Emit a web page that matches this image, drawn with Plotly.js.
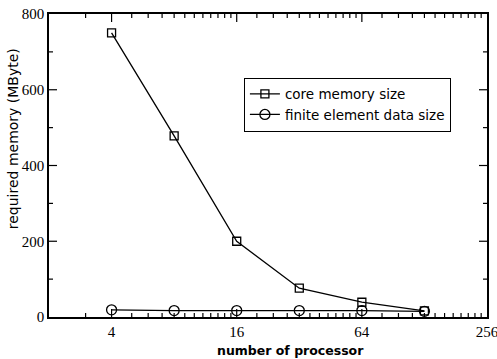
<!DOCTYPE html>
<html><head><meta charset="utf-8">
<script src="https://cdn.plot.ly/plotly-3.0.1.min.js"></script>
<style>body{margin:0;padding:0;background:#fff}#c{width:497px;height:359px}</style>
</head><body><div id="c"></div>
<script>
var processors = [4, 8, 16, 32, 64, 128];
var coreMemory = [750, 478, 200, 76, 39, 16];
var feData = [19, 17, 17, 17, 17, 15];
var xTicks = [4, 16, 64, 256];
var xTickText = ['4', '16', '64', '256'];
var yTicks = [0, 200, 400, 600, 800];
var yMinorTicks = [100, 300, 500, 700];
var xTitle = 'number of processor';
var yTitle = 'required memory (MByte)';

var W = 497, H = 359, M = {l: 49, r: 10, t: 14, b: 42};
var plotW = W - M.l - M.r, plotH = H - M.t - M.b;
var xMin = 2, xMax = 256, yMin = 0, yMax = 800;

// minor x ticks: quarter steps of each major value inside each major interval
var xMinorTicks = [3];
xTicks.slice(0, -1).forEach(function (a) {
  for (var k = 1; k < 12; k++) xMinorTicks.push(a + k * a / 4);
});

function tickShapes() {
  var s = [];
  var ln = {color: '#000', width: 1.2};
  var lx = Math.log10(xMax / xMin);
  function xt(v, len) {
    var d = len / plotH * (yMax - yMin);
    s.push({type: 'line', xref: 'x', yref: 'y', x0: v, x1: v, y0: yMin, y1: yMin + d, line: ln, layer: 'above'});
    s.push({type: 'line', xref: 'x', yref: 'y', x0: v, x1: v, y0: yMax, y1: yMax - d, line: ln, layer: 'above'});
  }
  function yt(v, len) {
    var f = len / plotW * lx;
    s.push({type: 'line', xref: 'x', yref: 'y', y0: v, y1: v, x0: xMin, x1: xMin * Math.pow(10, f), line: ln, layer: 'above'});
    s.push({type: 'line', xref: 'x', yref: 'y', y0: v, y1: v, x0: xMax, x1: xMax / Math.pow(10, f), line: ln, layer: 'above'});
  }
  xTicks.slice(0, -1).forEach(function (v) { xt(v, 8); });
  xMinorTicks.forEach(function (v) { xt(v, 4); });
  yTicks.slice(1, -1).forEach(function (v) { yt(v, 8); });
  yMinorTicks.forEach(function (v) { yt(v, 4); });
  return s;
}

var traces = [
  {x: processors, y: coreMemory, name: 'core memory size', mode: 'lines+markers', type: 'scatter',
   line: {color: '#000', width: 1.3},
   marker: {symbol: 'square-open', size: 8, color: '#000', line: {width: 1.3}}},
  {x: processors, y: feData, name: 'finite element data size', mode: 'lines+markers', type: 'scatter',
   line: {color: '#000', width: 1.3},
   marker: {symbol: 'circle-open', size: 10, color: '#000', line: {width: 1.3}}}
];
var sans = 'DejaVu Sans, Arial, sans-serif';
var serif = 'Liberation Serif, Times New Roman, serif';
var layout = {
  width: W, height: H,
  margin: M,
  paper_bgcolor: '#fff', plot_bgcolor: '#fff',
  showlegend: true,
  legend: {x: 0.445, y: 0.79, xanchor: 'left', yanchor: 'top', bordercolor: '#000', borderwidth: 1,
           bgcolor: 'rgba(255,255,255,0)', itemwidth: 30, tracegroupgap: 0,
           font: {family: sans, size: 13.5, color: '#000'}},
  xaxis: {type: 'log', range: [Math.log10(xMin) - 1e-6, Math.log10(xMax) + 1e-6], tickmode: 'array',
          tickvals: xTicks, ticktext: xTickText, ticks: '', showline: true, linecolor: '#000', linewidth: 1.5,
          mirror: true, showgrid: false, zeroline: false, ticklabeloverflow: 'allow',
          tickfont: {family: serif, size: 15, color: '#000'}},
  yaxis: {range: [yMin, yMax], tickmode: 'array', tickvals: yTicks, ticks: '',
          showline: true, linecolor: '#000', linewidth: 1.5, mirror: true, showgrid: false, zeroline: false,
          ticklabelstandoff: 0, ticklabeloverflow: 'allow',
          tickfont: {family: serif, size: 15, color: '#000'}},
  shapes: tickShapes(),
  annotations: [
    {text: '<b>' + xTitle + '</b>', xref: 'paper', yref: 'paper', x: 0.551, y: -0.08, xanchor: 'center', yanchor: 'top',
     showarrow: false, font: {family: sans, size: 12.5, color: '#000'}},
    {text: yTitle, xref: 'paper', yref: 'paper', x: -0.082, y: 0.587, xanchor: 'center', yanchor: 'middle',
     textangle: -90, showarrow: false, font: {family: sans, size: 14, color: '#000'}}
  ]
};
Plotly.newPlot('c', traces, layout, {displayModeBar: false});
</script></body></html>
